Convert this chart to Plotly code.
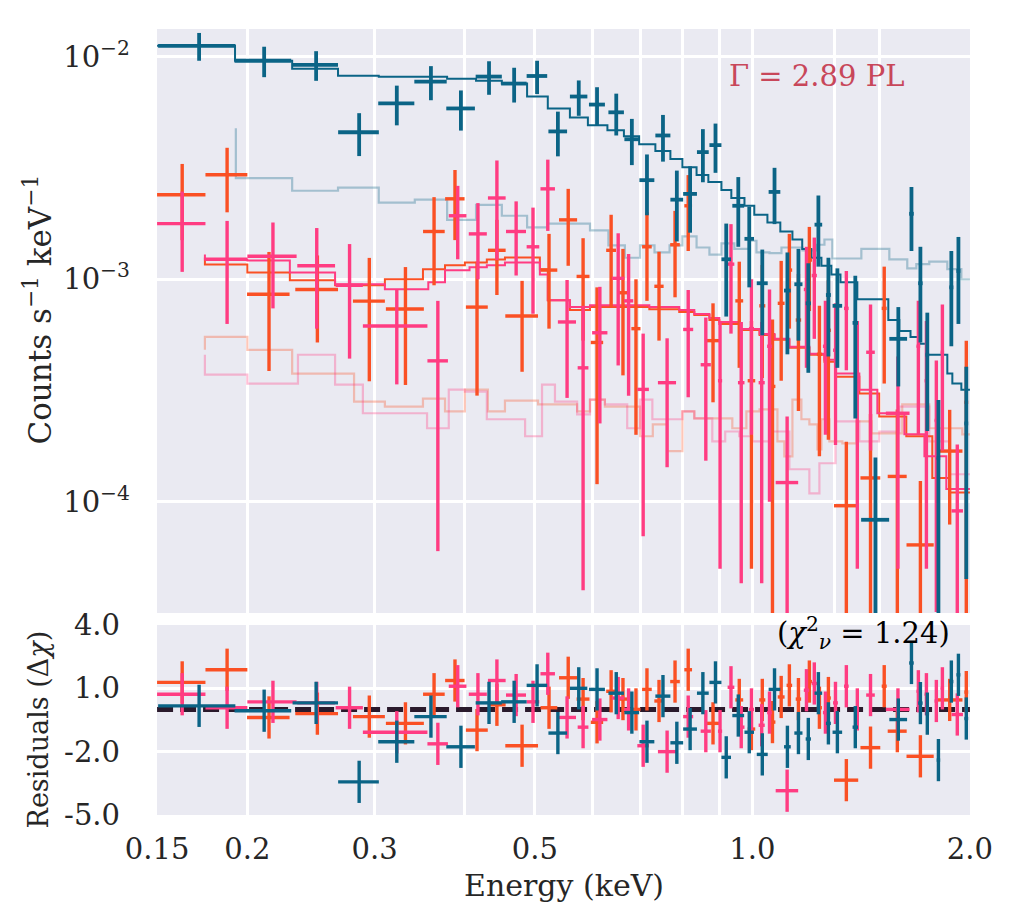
import math
import plotly.graph_objects as go

# ---------------- data: three instruments ----------------
# teal instrument
pn_E = [0.1715, 0.211, 0.249, 0.2856, 0.322, 0.359, 0.395, 0.432, 0.468, 0.5035,
        0.538, 0.575, 0.6095, 0.648, 0.681, 0.7146, 0.752, 0.786, 0.82, 0.854,
        0.889, 0.920, 0.956, 0.99, 1.032, 1.073, 1.118, 1.158, 1.195, 1.234,
        1.274, 1.311, 1.388, 1.48, 1.592, 1.66, 1.708, 1.746, 1.809, 1.885,
        1.928, 1.977]
pn_dE = [0.021, 0.019, 0.018, 0.0185, 0.0185, 0.0185, 0.018, 0.018, 0.019, 0.0165,
         0.016, 0.016, 0.0155, 0.016, 0.016, 0.017, 0.018, 0.016, 0.018, 0.016,
         0.017, 0.014, 0.018, 0.015, 0.018, 0.02, 0.012, 0.015, 0.01, 0.015,
         0.01, 0.02, 0.012, 0.066, 0.045, 0.012, 0.012, 0.01, 0.01, 0.012,
         0.012, 0.012]
pn_rate = [0.0112, 0.0096, 0.0092, 0.00458, 0.00617, 0.00773, 0.00586, 0.00815, 0.00758, 0.0082,
           0.00462, 0.00663, 0.0061, 0.00563, 0.00426, 0.00279, 0.00443, 0.00228, 0.00242, 0.00373,
           0.00401, 0.00123, 0.00214, 0.00152, 0.00096, 0.00247, 0.00089, 0.00095, 0.00078, 0.00176,
           0.00085, 0.00076, 0.000637, 0.000083, 0.00054, 0.00197, 0.00096, 0.000458, 0.000157, 0.00092,
           0.00109, 0.000225]
pn_err = [0.0016, 0.0015, 0.0014, 0.0010, 0.00125, 0.00135, 0.0012, 0.0014, 0.00135, 0.0014,
          0.00105, 0.0012, 0.0012, 0.0012, 0.001, 0.00085, 0.00105, 0.0008, 0.0008, 0.001,
          0.001, 0.00055, 0.00074, 0.0006, 0.0004, 0.0007, 0.00043, 0.00042, 0.0004, 0.00062,
          0.0004, 0.00036, 0.0004, 0.000075, 0.00021, 0.00063, 0.00044, 0.00025, 0.00013, 0.00042,
          0.00046, 0.00018]
pn_resid = [0.17, -0.06, 0.31, -3.43, -1.53, -0.34, -1.77, 0.31, 0.36, 1.14,
            -1.12, 1.0, 0.95, 0.77, -0.15, -1.53, 0.63, -1.58, -0.93, 0.77,
            1.28, -2.27, -0.29, -1.08, -2.13, 0.95, -1.77, -1.12, -1.4, 0.77,
            -0.66, -1.08, -0.84, None, -0.48, 2.2, 0.3, -0.2, -2.4, 1.32,
            1.64, -0.43]

# orange instrument
m1_E = [0.1625, 0.1875, 0.2143, 0.25, 0.295, 0.331, 0.3626, 0.3876, 0.4158, 0.443,
        0.480, 0.523, 0.556, 0.583, 0.6095, 0.6375, 0.662, 0.69, 0.7146, 0.7426,
        0.7815, 0.815, 0.882, 0.959, 0.997, 1.032, 1.066, 1.096, 1.125, 1.158,
        1.199, 1.238, 1.274, 1.349, 1.457, 1.522, 1.587, 1.708, 1.875, 1.977]
m1_dE = [0.0125, 0.0125, 0.0145, 0.017, 0.015, 0.02, 0.0125, 0.012, 0.0145, 0.0125,
         0.025, 0.014, 0.016, 0.012, 0.012, 0.01, 0.01, 0.01, 0.011, 0.011,
         0.012, 0.01, 0.02, 0.012, 0.012, 0.01, 0.01, 0.012, 0.01, 0.01,
         0.01, 0.01, 0.01, 0.052, 0.046, 0.012, 0.048, 0.074, 0.078, 0.012]
m1_rate = [0.0024, 0.00295, 0.000857, 0.0009, 0.000798, 0.000735, 0.00164, 0.0023, 0.00075, 0.00135,
           0.000684, 0.0011, 0.00185, 0.00103, 0.00052, 0.00135, 0.00087, 0.0006, 0.0014, 0.00093,
           0.00143, 0.00214, 0.00053, 0.0008, 0.00035, 0.00076, 0.00033, 0.00078, 0.0011, 0.000656,
           0.00122, 0.00046, 0.00059, 0.000096, 0.000128, 0.00074, 0.00013, 0.000064, 0.000169, 0.00028]
m1_err = [0.0009, 0.00095, 0.00047, 0.00038, 0.00045, 0.0004, 0.0007, 0.0008, 0.00045, 0.0005,
          0.0003, 0.0005, 0.0007, 0.0005, 0.0004, 0.0006, 0.0005, 0.0004, 0.0006, 0.0004,
          0.0006, 0.0008, 0.00025, 0.0004, 0.0003, 0.0004, 0.00033, 0.00043, 0.0005, 0.0004,
          0.0005, 0.0003, 0.0004, 0.00009, 0.00012, 0.0004, 0.00013, 0.00006, 0.00009, 0.00025]
m1_resid = [1.28, 1.88, -0.38, -0.2, -0.34, -0.66, 0.72, 1.37, -0.98, 0.22,
            -1.72, 0.08, 1.5, 0.49, -0.61, 0.86, 0.49, 0.0, 0.95, 0.4,
            1.32, 1.88, -0.66, 0.45, -0.93, 0.45, -0.6, 0.59, 1.14, 0.49,
            1.32, 0.08, 0.54, -3.35, -1.81, 1.1, -1.03, -2.22, 0.45, 0.82]

# pink instrument
m2_E = [0.1625, 0.1875, 0.217, 0.2495, 0.277, 0.322, 0.367, 0.391, 0.417, 0.443,
        0.471, 0.497, 0.521, 0.554, 0.583, 0.615, 0.652, 0.674, 0.706, 0.762,
        0.815, 0.862, 0.902, 0.934, 0.965, 0.997, 1.03, 1.056, 1.117, 1.188,
        1.218, 1.262, 1.303, 1.349, 1.397, 1.457, 1.59, 1.697, 1.741, 1.797,
        1.832, 1.921]
m2_dE = [0.0125, 0.0125, 0.017, 0.015, 0.012, 0.033, 0.012, 0.011, 0.012, 0.0125,
         0.015, 0.01, 0.012, 0.016, 0.01, 0.015, 0.013, 0.01, 0.013, 0.022,
         0.013, 0.014, 0.006, 0.01, 0.01, 0.008, 0.01, 0.008, 0.04, 0.01,
         0.01, 0.01, 0.01, 0.01, 0.008, 0.02, 0.06, 0.01, 0.01, 0.01,
         0.01, 0.035]
m2_rate = [0.00178, 0.00123, 0.00127, 0.00115, 0.00094, 0.000617, 0.00043, 0.00193, 0.0016, 0.00232,
           0.00164, 0.0014, 0.00255, 0.000643, 0.0004, 0.000575, 0.00101, 0.0008, 0.00032, 0.000343,
           0.000595, 0.000413, 0.00035, 0.00117, 0.000343, 0.0006, 0.000343, 0.0005, 0.000122, 0.0009,
           0.00104, 0.0005, 0.00048, 0.00074, 0.00035, 0.00047, 0.00025, 0.0005, 0.00035, 0.000232,
           0.00047, 0.000091]
m2_err = [0.0007, 0.0006, 0.00053, 0.00055, 0.0005, 0.00028, 0.00037, 0.0007, 0.0006, 0.0011,
          0.0006, 0.0007, 0.0009, 0.00035, 0.00036, 0.00035, 0.0006, 0.0005, 0.00025, 0.0002,
          0.0003, 0.00026, 0.0003, 0.0006, 0.0003, 0.0004, 0.0003, 0.0004, 0.00012, 0.0005,
          0.0005, 0.0003, 0.0003, 0.00035, 0.0003, 0.0003, 0.0002, 0.0003, 0.0003, 0.0002,
          0.0003, 0.00009]
m2_resid = [0.72, 0.08, 0.36, 0.31, 0.08, -1.08, -1.63, 1.1, 0.72, 1.37,
            0.68, 0.36, 1.69, -0.38, -0.84, -0.48, 0.54, 0.0, -1.72, -2.0,
            -0.34, -1.03, -1.03, 1.05, -0.84, 0.0, -0.75, -0.15, -3.85, 0.91,
            1.23, -0.15, 0.31, 1.1, 0.0, 0.68, 0.0, 0.86, 0.72, 0.4,
            1.0, -0.24]

# ---------------- folded models (bin edges, values) ----------------
pn_model_edges = [0.150, 0.1923, 0.2307, 0.267, 0.304, 0.341, 0.378, 0.4145, 0.450, 0.4877,
                  0.521, 0.559, 0.592, 0.630, 0.664, 0.697, 0.734, 0.770, 0.800, 0.837,
                  0.869, 0.906, 0.935, 0.975, 1.006, 1.049, 1.093, 1.136, 1.172, 1.207,
                  1.246, 1.286, 1.324, 1.397, 1.542, 1.597, 1.655, 1.703, 1.741, 1.861,
                  1.891, 1.946, 2.0]
pn_model_vals = [0.0112, 0.0096, 0.00884, 0.00823, 0.00814, 0.00814, 0.00797, 0.00781, 0.00758, 0.00663,
                 0.00586, 0.00534, 0.00492, 0.00468, 0.0044, 0.00405, 0.00377, 0.00347, 0.00319, 0.00294,
                 0.00274, 0.00252, 0.00232, 0.00214, 0.00195, 0.0018, 0.00164, 0.00151, 0.00137, 0.00125,
                 0.00115, 0.00105, 0.00097, 0.000814, 0.000656, 0.000586, 0.000551, 0.000513, 0.000458, 0.000377,
                 0.00034, 0.000319]

m1_model_start = 0.001253
m1_model_edges = [0.1747, 0.2, 0.229, 0.2645, 0.310, 0.350, 0.3755, 0.4, 0.429, 0.4545,
                  0.508, 0.521, 0.559, 0.596, 0.72, 0.792, 0.831, 0.872, 0.9, 0.959,
                  1.023, 1.073, 1.125, 1.199, 1.258, 1.303, 1.406, 1.498, 1.633, 1.774,
                  1.873, 2.0]
m1_model_vals = [0.001167, 0.001074, 0.00099, 0.00094, 0.001, 0.001109, 0.001155, 0.001191, 0.001228, 0.001253,
                 0.001109, 0.000805, 0.000727, 0.00075, 0.000734, 0.000712, 0.000691, 0.000656, 0.00063, 0.000592,
                 0.000562, 0.000535, 0.000492, 0.000458, 0.000426, 0.000365, 0.000307, 0.000242, 0.000197, 0.000128,
                 0.00011]

m2_model_start = 0.001294
m2_model_edges = [0.1747, 0.2, 0.229, 0.2645, 0.310, 0.356, 0.3755, 0.406, 0.429, 0.4545,
                  0.508, 0.521, 0.559, 0.596, 0.72, 0.792, 0.831, 0.872, 0.9, 0.959,
                  1.023, 1.073, 1.125, 1.199, 1.258, 1.303, 1.406, 1.489, 1.623, 1.73,
                  1.855, 2.0]
m2_model_vals = [0.001228, 0.001216, 0.001074, 0.00095, 0.000902, 0.00097, 0.001097, 0.001132, 0.001155, 0.001191,
                 0.001052, 0.000805, 0.00075, 0.000765, 0.00075, 0.000727, 0.000698, 0.00067, 0.000643, 0.000598,
                 0.000568, 0.00054, 0.000497, 0.000463, 0.000435, 0.000377, 0.000319, 0.00025, 0.000201, 0.00016,
                 0.000114]

# ---------------- backgrounds (faded) ----------------
pn_bkg_start = 0.00477
pn_bkg_edges = [0.1928, 0.2307, 0.267, 0.304, 0.341, 0.378, 0.4145, 0.450, 0.4877, 0.521,
                0.596, 0.632, 0.666, 0.699, 0.732, 0.768, 0.800, 0.837, 0.872, 0.906,
                0.944, 0.990, 1.013, 1.056, 1.097, 1.173, 1.226, 1.258, 1.29, 1.415,
                1.547, 1.638, 1.686, 1.757, 1.861, 1.946, 2.0]
pn_bkg_vals = [0.00285, 0.0025, 0.00258, 0.00221, 0.00228, 0.00185, 0.00216, 0.00193, 0.00171, 0.00178,
               0.00166, 0.00142, 0.00125, 0.00142, 0.00132, 0.00142, 0.00156, 0.00139, 0.00129, 0.00145,
               0.00137, 0.00149, 0.00132, 0.00131, 0.00139, 0.00135, 0.00143, 0.00151, 0.00124, 0.00137,
               0.00123, 0.00112, 0.00117, 0.0012, 0.00111, 0.001]

m1_bkg_start = 0.000482
m1_bkg_edges = [0.1747, 0.2, 0.2307, 0.281, 0.310, 0.350, 0.3755, 0.4, 0.4305, 0.4545,
                0.505, 0.572, 0.596, 0.625, 0.699, 0.728, 0.762, 0.800, 0.831, 0.938,
                0.981, 1.023, 1.083, 1.107, 1.136, 1.169, 1.199, 1.23, 1.246, 1.278,
                1.332, 1.393, 1.461, 1.612, 1.757, 1.952, 2.0]
m1_bkg_vals = [0.000551, 0.000482, 0.000377, 0.000282, 0.000268, 0.000291, 0.000255, 0.000319, 0.000255, 0.000285,
               0.000274, 0.000255, 0.000288, 0.000268, 0.000197, 0.000223, 0.000169, 0.000255, 0.000237, 0.000214,
               0.000255, 0.00026, 0.000187, 0.00016, 0.000288, 0.000235, 0.000223, 0.000172, 0.000235, 0.000187,
               0.000183, 0.00023, 0.000203, 0.000274, 0.000214, 0.000201]

m2_bkg_start = 0.000458
m2_bkg_edges = [0.1747, 0.2, 0.235, 0.2645, 0.289, 0.3546, 0.380, 0.4, 0.429, 0.4846,
                0.5115, 0.533, 0.572, 0.596, 0.625, 0.671, 0.699, 0.727, 0.800, 0.831,
                0.88, 0.917, 0.959, 1.0, 1.056, 1.125, 1.199, 1.238, 1.303, 1.406,
                1.498, 1.597, 1.757, 1.873, 2.0]
m2_bkg_vals = [0.000373, 0.00034, 0.000458, 0.000336, 0.00025, 0.000214, 0.000319, 0.000313, 0.000235, 0.000197,
               0.000336, 0.000282, 0.000247, 0.000288, 0.000274, 0.000214, 0.000288, 0.000235, 0.000255, 0.000237,
               0.000187, 0.000207, 0.000197, 0.000187, 0.000207, 0.00014, 0.000109, 0.000149, 0.00023, 0.000187,
               0.000207, 0.000268, 0.000187, 0.000133]

# axis ticks
x_ticks = [0.15, 0.2, 0.3, 0.5, 1.0, 2.0]
x_ticktext = ["0.15", "0.2", "0.3", "0.5", "1.0", "2.0"]
x_minor_top = [0.4, 0.6, 0.7, 0.8, 0.9, 1.3, 1.5]
x_minor_bot = [0.4, 0.6, 0.7, 0.8, 0.9]
y_ticks = [1e-2, 1e-3, 1e-4]
y_ticktext = ["10<sup>−2</sup>", "10<sup>−3</sup>", "10<sup>−4</sup>"]
r_ticks = [4, 1, -2, -5]
r_ticktext = ["4.0", "1.0", "-2.0", "-5.0"]

# ---------------- style ----------------
TEAL = "#0b6486"
ORANGE = "#fa5024"
PINK = "#ff3c82"
TEAL_F = "rgba(11,100,134,0.32)"
ORANGE_F = "rgba(250,80,36,0.32)"
PINK_F = "rgba(255,60,130,0.32)"
FONT = "DejaVu Serif"
TICK_SIZE = 29
TITLE_SIZE = 30

W, H = 1011, 920
L, R, T, B = 157, 41, 25, 105
PH = H - T - B
top_dom = [(H - B - 612) / PH, 1.0]
bot_dom = [0.0, (H - B - 624) / PH]

fig = go.Figure()


def step_xy(edges, vals, start=None):
    xs = list(edges)
    ys = list(vals) + [vals[-1]]
    if start is not None:
        xs = [edges[0]] + xs
        ys = [start] + ys
    return xs, ys


def add_step(edges, vals, color, width, start=None):
    xs, ys = step_xy(edges, vals, start)
    fig.add_trace(go.Scatter(x=xs, y=ys, mode="lines", line=dict(color=color, width=width, shape="hv"),
                             xaxis="x", yaxis="y", hoverinfo="skip"))


def add_data(E, dE, rate, err, color, thick):
    lo = [min(e, r * 0.999) for e, r in zip(err, rate)]
    fig.add_trace(go.Scatter(
        x=E, y=rate, mode="markers", marker=dict(size=3, color=color),
        error_x=dict(type="data", array=dE, symmetric=True, color=color, thickness=thick, width=0),
        error_y=dict(type="data", array=err, arrayminus=lo, symmetric=False, color=color,
                     thickness=thick, width=0),
        xaxis="x", yaxis="y"))


def add_resid(E, dE, res, color, thick):
    fig.add_trace(go.Scatter(
        x=E, y=res, mode="markers", marker=dict(size=3, color=color),
        error_x=dict(type="data", array=dE, symmetric=True, color=color, thickness=thick, width=0),
        error_y=dict(type="data", array=[1.0] * len(E), symmetric=True, color=color,
                     thickness=thick, width=0),
        xaxis="x2", yaxis="y2"))


# backgrounds
add_step(pn_bkg_edges, pn_bkg_vals, TEAL_F, 2.2, pn_bkg_start)
add_step(m1_bkg_edges, m1_bkg_vals, ORANGE_F, 2.2, m1_bkg_start)
add_step(m2_bkg_edges, m2_bkg_vals, PINK_F, 2.2, m2_bkg_start)
# models
add_step(m1_model_edges, m1_model_vals, ORANGE, 2, m1_model_start)
add_step(m2_model_edges, m2_model_vals, PINK, 2, m2_model_start)
add_step(pn_model_edges, pn_model_vals, TEAL, 2)
# data
add_data(m1_E, m1_dE, m1_rate, m1_err, ORANGE, 3.4)
add_data(m2_E, m2_dE, m2_rate, m2_err, PINK, 3.4)
add_data(pn_E, pn_dE, pn_rate, pn_err, TEAL, 3.8)

# residual zero line
fig.add_trace(go.Scatter(x=[0.15, 2.0], y=[0, 0], mode="lines",
                         line=dict(color="#2a1a2c", width=5, dash="16px,7px"),
                         xaxis="x2", yaxis="y2", hoverinfo="skip"))
add_resid(m1_E, m1_dE, m1_resid, ORANGE, 3.4)
add_resid(m2_E, m2_dE, m2_resid, PINK, 3.4)
add_resid(pn_E, pn_dE, pn_resid, TEAL, 3.4)

xr = [math.log10(0.15) - 1e-4, math.log10(2.0) + 1e-4]
grid = dict(showgrid=True, gridcolor="white", gridwidth=2.5, zeroline=False, showline=False, ticks="")
tickfont = dict(family=FONT, size=TICK_SIZE, color="#262626")

fig.update_layout(
    width=W, height=H, margin=dict(l=L, r=R, t=T, b=B),
    paper_bgcolor="white", plot_bgcolor="#EAEAF2", showlegend=False,
    font=dict(family=FONT, size=TICK_SIZE, color="#262626"),
    xaxis=dict(type="log", range=xr, domain=[0, 1], anchor="y", tickvals=x_ticks, ticktext=x_ticktext,
               showticklabels=False,
               minor=dict(tickvals=x_minor_top, showgrid=True, gridcolor="white", gridwidth=2.5, ticks=""),
               **grid),
    yaxis=dict(type="log", range=[-4.5, -1.875], domain=top_dom, anchor="x", tickvals=y_ticks,
               ticktext=y_ticktext, ticklabelstandoff=26, tickfont=tickfont, **grid),
    xaxis2=dict(type="log", range=xr, domain=[0, 1], anchor="y2", tickvals=x_ticks, ticktext=x_ticktext,
                ticklabelstandoff=14, tickfont=tickfont,
                minor=dict(tickvals=x_minor_bot, showgrid=True, gridcolor="white", gridwidth=2.5, ticks=""),
                **grid),
    yaxis2=dict(range=[-5.001, 4.001], domain=bot_dom, anchor="x2", tickvals=r_ticks, ticktext=r_ticktext,
                ticklabelstandoff=36, tickfont=tickfont, **grid),
)


def px(xp):
    return (xp - L) / (W - L - R)


def py(yp):
    return (H - B - yp) / PH


fig.add_annotation(x=px(727), y=py(72), xref="paper", yref="paper", xanchor="left", yanchor="middle",
                   text="Γ = 2.89 PL", showarrow=False, font=dict(family=FONT, size=29, color="#c8475a"))
fig.add_annotation(x=px(952), y=py(632), xref="paper", yref="paper", xanchor="right", yanchor="middle",
                   text="(<i>χ</i><sup>2</sup><sub><i>ν</i></sub> = 1.24)", showarrow=False,
                   font=dict(family=FONT, size=29, color="black"))
fig.add_annotation(x=px(38), y=py(307), xref="paper", yref="paper", xanchor="center", yanchor="middle",
                   text="Counts s<sup>−1</sup> keV<sup>−1</sup>", textangle=-90, showarrow=False,
                   font=dict(family=FONT, size=31, color="#262626"))
fig.add_annotation(x=px(38), y=py(729), xref="paper", yref="paper", xanchor="center", yanchor="middle",
                   text="Residuals (Δ<i>χ</i>)", textangle=-90, showarrow=False,
                   font=dict(family=FONT, size=27, color="#262626"))
fig.add_annotation(x=px(564), y=py(886), xref="paper", yref="paper", xanchor="center", yanchor="middle",
                   text="Energy (keV)", showarrow=False,
                   font=dict(family=FONT, size=TITLE_SIZE, color="#262626"))

fig.write_html("out.html")
